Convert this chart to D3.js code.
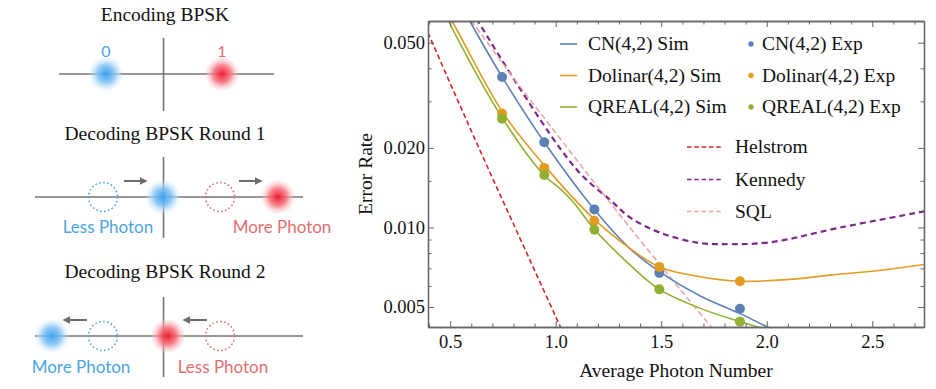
<!DOCTYPE html>
<html>
<head>
<meta charset="utf-8">
<script src="https://cdn.jsdelivr.net/npm/d3@7"></script>
<style>
  body { margin: 0; background: #fff; }
  svg { display: block; }
</style>
</head>
<body>
<svg id="fig" width="936" height="389"></svg>
<script>
// ---------- data ----------
// simulation curves (N = average photon number, P = error rate)
const cnSimN  = [0.55, 0.595, 0.746, 0.946, 1.183, 1.353, 1.491, 1.685, 1.874, 1.998, 2.05];
const cnSimP  = [0.070, 0.0600, 0.0371, 0.0210, 0.0117, 0.0083, 0.00680, 0.00550, 0.00472, 0.00422, 0.00405];
const dolSimN = [0.46, 0.510, 0.746, 0.946, 1.183, 1.353, 1.491, 1.671, 1.874, 2.10, 2.301, 2.55, 2.746];
const dolSimP = [0.069, 0.0600, 0.02744, 0.01717, 0.01073, 0.00832, 0.00709, 0.00654, 0.00626, 0.00635, 0.00660, 0.00690, 0.00724];
const qrSimN  = [0.45, 0.494, 0.746, 0.946, 1.021, 1.083, 1.183, 1.353, 1.491, 1.685, 1.874, 1.954, 2.0];
const qrSimP  = [0.072, 0.0600, 0.02604, 0.01573, 0.01402, 0.01248, 0.00984, 0.00720, 0.00583, 0.00494, 0.00440, 0.00421, 0.00410];

// reference bounds
const helN = [0.395, 0.5, 0.6, 0.7, 0.8, 0.9, 1.0, 1.06];
const helP = [0.0545, 0.0351, 0.0232, 0.0154, 0.0103, 0.00688, 0.00460, 0.00362];
const kenN = [0.55, 0.633, 0.827, 1.021, 1.126, 1.258, 1.353, 1.495, 1.670, 1.794, 2.017, 2.348, 2.746];
const kenP = [0.077, 0.0600, 0.0339, 0.0199, 0.0157, 0.0127, 0.01090, 0.00955, 0.00876, 0.00864, 0.00879, 0.00999, 0.0115];
const sqlN = [0.55, 0.6, 0.8, 1.0, 1.2, 1.4, 1.6, 1.8];
const sqlP = [0.0690, 0.0607, 0.0368, 0.0228, 0.0142, 0.00894, 0.00570, 0.00365];

// experimental points
const expN   = [0.746, 0.946, 1.183, 1.491, 1.873];
const cnExp  = [0.0371, 0.0210, 0.0117, 0.00673, 0.00492];
const dolExp = [0.0270, 0.0168, 0.0106, 0.00709, 0.00626];
const qrExp  = [0.0258, 0.0158, 0.0098, 0.00583, 0.00440];

// ticks
const xMajor = [0.5, 1.0, 1.5, 2.0, 2.5];
const yMajor = [0.005, 0.010, 0.020, 0.050];
const yMinor = [0.006, 0.007, 0.008, 0.009, 0.015, 0.03, 0.04];

const serif = "'Liberation Serif', 'Times New Roman', serif";
const sans = "Lato, 'Open Sans', sans-serif";
const frameCol = "#666";

const svg = d3.select("#fig");
const defs = svg.append("defs");

// ---------- right panel: error rate chart ----------
const x = d3.scaleLinear().domain([0.395, 2.745]).range([428, 924]);
const y = d3.scaleLog().domain([0.0042, 0.0604]).range([327, 21]);

defs.append("clipPath").attr("id", "plotClip")
  .append("rect").attr("x", 428).attr("y", 21).attr("width", 496).attr("height", 306);

const zip = (ns, ps) => ns.map((n, i) => ({ n: n, p: ps[i] }));
const line = d3.line().x(d => x(d.n)).y(d => y(d.p)).curve(d3.curveCatmullRom.alpha(0.5));

const bounds = [
  { name: "Helstrom", data: zip(helN, helP), color: "#d0262c", dash: "5,3", w: 1.6 },
  { name: "Kennedy",  data: zip(kenN, kenP), color: "#7b2a88", dash: "6,4", w: 2.2 },
  { name: "SQL",      data: zip(sqlN, sqlP), color: "#eca2a2", dash: "6,3", w: 1.5 }
];
const sims = [
  { name: "CN(4,2) Sim",      data: zip(cnSimN, cnSimP),   color: "#5e81b5" },
  { name: "Dolinar(4,2) Sim", data: zip(dolSimN, dolSimP), color: "#e19c24" },
  { name: "QREAL(4,2) Sim",   data: zip(qrSimN, qrSimP),   color: "#8fb032" }
];
const exps = [
  { name: "CN(4,2) Exp",      data: zip(expN, cnExp),  color: "#5e81b5" },
  { name: "Dolinar(4,2) Exp", data: zip(expN, dolExp), color: "#e19c24" },
  { name: "QREAL(4,2) Exp",   data: zip(expN, qrExp),  color: "#8fb032" }
];

const plot = svg.append("g").attr("clip-path", "url(#plotClip)");

plot.selectAll(".bound").data(bounds).join("path")
  .attr("class", "bound")
  .attr("d", d => line(d.data))
  .attr("fill", "none")
  .attr("stroke", d => d.color)
  .attr("stroke-width", d => d.w)
  .attr("stroke-dasharray", d => d.dash);

plot.selectAll(".sim").data(sims).join("path")
  .attr("class", "sim")
  .attr("d", d => line(d.data))
  .attr("fill", "none")
  .attr("stroke", d => d.color)
  .attr("stroke-width", 1.6);

exps.forEach(s => {
  plot.selectAll(null).data(s.data).join("circle")
    .attr("cx", d => x(d.n)).attr("cy", d => y(d.p))
    .attr("r", 5).attr("fill", s.color);
});

// frame with inward ticks on all four sides
const xMinor = d3.range(4, 28).map(v => v / 10).filter(v => Math.abs(v * 2 - Math.round(v * 2)) > 1e-6);

function styleAxis(g) {
  g.selectAll(".domain").attr("stroke", frameCol).attr("stroke-width", 1.3);
  g.selectAll(".tick line").attr("stroke", frameCol).attr("stroke-width", 1);
  g.selectAll(".tick text").attr("fill", "#111").attr("font-family", serif).attr("font-size", 18.5);
}

svg.append("g").attr("transform", "translate(0,327)")
  .call(d3.axisBottom(x).tickValues(xMajor).tickSize(-6).tickSizeOuter(0).tickPadding(8).tickFormat(d3.format(".1f")))
  .call(styleAxis);
svg.append("g").attr("transform", "translate(0,327)")
  .call(d3.axisBottom(x).tickValues(xMinor).tickSize(-3.5).tickSizeOuter(0).tickFormat(""))
  .call(styleAxis);
svg.append("g").attr("transform", "translate(0,21)")
  .call(d3.axisTop(x).tickValues(xMajor).tickSize(-6).tickSizeOuter(0).tickFormat(""))
  .call(styleAxis);
svg.append("g").attr("transform", "translate(0,21)")
  .call(d3.axisTop(x).tickValues(xMinor).tickSize(-3.5).tickSizeOuter(0).tickFormat(""))
  .call(styleAxis);

svg.append("g").attr("transform", "translate(428,0)")
  .call(d3.axisLeft(y).tickValues(yMajor).tickSize(-6).tickSizeOuter(0).tickPadding(3).tickFormat(d3.format(".3f")))
  .call(styleAxis);
svg.append("g").attr("transform", "translate(428,0)")
  .call(d3.axisLeft(y).tickValues(yMinor).tickSize(-3.5).tickSizeOuter(0).tickFormat(""))
  .call(styleAxis);
svg.append("g").attr("transform", "translate(924,0)")
  .call(d3.axisRight(y).tickValues(yMajor).tickSize(-6).tickSizeOuter(0).tickFormat(""))
  .call(styleAxis);
svg.append("g").attr("transform", "translate(924,0)")
  .call(d3.axisRight(y).tickValues(yMinor).tickSize(-3.5).tickSizeOuter(0).tickFormat(""))
  .call(styleAxis);

// axis titles
svg.append("text")
  .attr("x", 676).attr("y", 377).attr("text-anchor", "middle")
  .attr("font-family", serif).attr("font-size", 19.5).attr("fill", "#111")
  .text("Average Photon Number");
svg.append("text")
  .attr("transform", "translate(372,174) rotate(-90)").attr("text-anchor", "middle")
  .attr("font-family", serif).attr("font-size", 19.5).attr("fill", "#111")
  .text("Error Rate");

// legends
const rowY = [44, 75.5, 107];
const legSim = svg.append("g");
sims.forEach((s, i) => {
  legSim.append("line").attr("x1", 560).attr("x2", 577).attr("y1", rowY[i]).attr("y2", rowY[i])
    .attr("stroke", s.color).attr("stroke-width", 1.6);
  legSim.append("text").attr("x", 588).attr("y", rowY[i]).attr("dy", "0.33em")
    .attr("font-family", serif).attr("font-size", 19.5).attr("fill", "#111").text(s.name);
});
exps.forEach((s, i) => {
  legSim.append("circle").attr("cx", 751).attr("cy", rowY[i]).attr("r", 2.7).attr("fill", s.color);
  legSim.append("text").attr("x", 762).attr("y", rowY[i]).attr("dy", "0.33em")
    .attr("font-family", serif).attr("font-size", 19.5).attr("fill", "#111").text(s.name);
});
const bRowY = [147, 179.5, 211.5];
bounds.forEach((s, i) => {
  legSim.append("line").attr("x1", 687).attr("x2", 723).attr("y1", bRowY[i]).attr("y2", bRowY[i])
    .attr("stroke", s.color).attr("stroke-width", Math.min(s.w, 1.6)).attr("stroke-dasharray", "4.5,2.8");
  legSim.append("text").attr("x", 735).attr("y", bRowY[i]).attr("dy", "0.33em")
    .attr("font-family", serif).attr("font-size", 19.5).attr("fill", "#111").text(s.name);
});

// ---------- left panel: BPSK encoding / decoding sketch ----------
const blue = "#4aa6e2", red = "#e06f70";
function blobGrad(id, core, mid, edge) {
  const g = defs.append("radialGradient").attr("id", id);
  g.append("stop").attr("offset", "0").attr("stop-color", core).attr("stop-opacity", 1);
  g.append("stop").attr("offset", "0.5").attr("stop-color", mid).attr("stop-opacity", 0.85);
  g.append("stop").attr("offset", "0.8").attr("stop-color", edge).attr("stop-opacity", 0.45);
  g.append("stop").attr("offset", "1").attr("stop-color", edge).attr("stop-opacity", 0);
}
blobGrad("gBlue", "#3aa2ee", "#7fc2f3", "#bcdff8");
blobGrad("gRed", "#ee1c2c", "#f4707c", "#f9b8be");

defs.append("marker").attr("id", "arr").attr("viewBox", "0 0 10 10")
  .attr("refX", 8).attr("refY", 5).attr("markerWidth", 4).attr("markerHeight", 4)
  .attr("orient", "auto-start-reverse")
  .append("path").attr("d", "M0,0 L10,5 L0,10 Z").attr("fill", "#6d6d6d");

const panels = [
  { title: "Encoding BPSK", ty: 21, ay: 74, x0: 59, x1: 274, vy0: 38, vy1: 111,
    blobs: [{ x: 106, c: "gBlue" }, { x: 222, c: "gRed" }],
    rings: [], arrows: [],
    labels: [{ t: "0", x: 106, y: 57, c: blue }, { t: "1", x: 222, y: 57, c: red }] },
  { title: "Decoding BPSK Round 1", ty: 140, ay: 197, x0: 35, x1: 303, vy0: 157, vy1: 238,
    blobs: [{ x: 163, c: "gBlue" }, { x: 278, c: "gRed" }],
    rings: [{ x: 103, c: blue }, { x: 220, c: red }],
    arrows: [{ a: 124, b: 146, y: 181 }, { a: 239, b: 261, y: 181 }],
    labels: [{ t: "Less Photon", x: 108, y: 233, c: blue }, { t: "More Photon", x: 282, y: 233, c: red }] },
  { title: "Decoding BPSK Round 2", ty: 278, ay: 336, x0: 35, x1: 303, vy0: 297, vy1: 377,
    blobs: [{ x: 52, c: "gBlue" }, { x: 168, c: "gRed" }],
    rings: [{ x: 103, c: blue }, { x: 220, c: red }],
    arrows: [{ a: 87, b: 64, y: 320 }, { a: 207, b: 184, y: 320 }],
    labels: [{ t: "More Photon", x: 81, y: 373, c: blue }, { t: "Less Photon", x: 223, y: 373, c: red }] }
];

const left = svg.append("g");
panels.forEach(p => {
  const g = left.append("g");
  g.append("text").attr("x", 165).attr("y", p.ty).attr("text-anchor", "middle")
    .attr("font-family", serif).attr("font-size", 19.5).attr("fill", "#111").text(p.title);
  g.append("line").attr("x1", p.x0).attr("x2", p.x1).attr("y1", p.ay).attr("y2", p.ay)
    .attr("stroke", "#747474").attr("stroke-width", 1.6);
  g.append("line").attr("x1", 163.5).attr("x2", 163.5).attr("y1", p.vy0).attr("y2", p.vy1)
    .attr("stroke", "#747474").attr("stroke-width", 1.6);
  p.blobs.forEach(b => {
    g.append("circle").attr("cx", b.x).attr("cy", p.ay).attr("r", 17.5).attr("fill", `url(#${b.c})`);
  });
  p.rings.forEach(r => {
    g.append("circle").attr("cx", r.x).attr("cy", p.ay).attr("r", 14.5).attr("fill", "none")
      .attr("stroke", r.c).attr("stroke-width", 1.6).attr("stroke-dasharray", "1.6,2.4");
  });
  p.arrows.forEach(a => {
    g.append("line").attr("x1", a.a).attr("x2", a.b).attr("y1", a.y).attr("y2", a.y)
      .attr("stroke", "#6d6d6d").attr("stroke-width", 2).attr("marker-end", "url(#arr)");
  });
  p.labels.forEach(l => {
    g.append("text").attr("x", l.x).attr("y", l.y).attr("text-anchor", "middle")
      .attr("font-family", sans).attr("font-size", l.t.length > 1 ? 17 : 16).attr("fill", l.c).text(l.t);
  });
});
</script>
</body>
</html>
